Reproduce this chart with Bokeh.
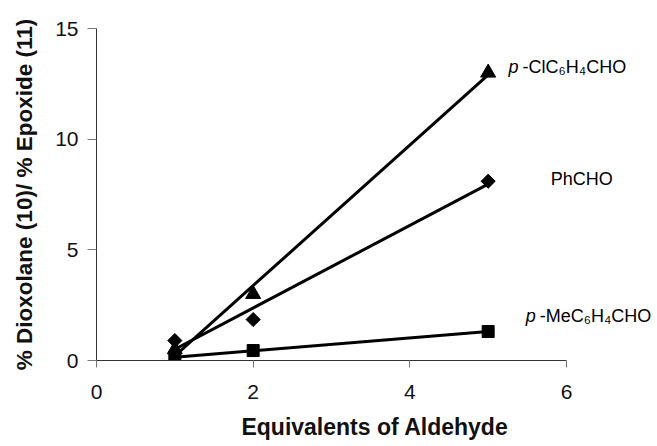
import numpy as np
from bokeh.plotting import figure
from bokeh.models import Label, Range1d, FixedTicker
from bokeh.embed import file_html
from bokeh.resources import INLINE

# ---- data ----
equivalents = [1, 2, 5]
cl_ratio = [0.5, 3.0, 13.0]     # p-ClC6H4CHO (triangles)
ph_ratio = [0.9, 1.85, 8.1]     # PhCHO (diamonds)
me_ratio = [0.14, 0.45, 1.31]   # p-MeC6H4CHO (squares)

x_ticks = [0, 2, 4, 6]
y_ticks = [0, 5, 10, 15]
x_axis_end = 6

# series label text and anchor (data units)
label_italic = ["p", "", "p"]
label_main = ["-ClC\u2086H\u2084CHO", "PhCHO", "-MeC\u2086H\u2084CHO"]
label_x = [5.26, 5.80, 5.48]
label_y = [13.25, 8.22, 2.03]

FONT = "Liberation Sans"

W, H = 655, 446
LEFT, TOP, BOTTOM, RIGHT = 96, 28, 86, 2
frame_w = W - LEFT - RIGHT
x_end = x_axis_end * frame_w / 470.0   # axis 0..6 spans 470 px, room for labels beyond

p = figure(width=W, height=H, x_range=Range1d(0, x_end), y_range=Range1d(0, 15),
           output_backend="svg", toolbar_location=None,
           min_border_left=LEFT, min_border_right=RIGHT, min_border_top=TOP, min_border_bottom=BOTTOM)
p.grid.visible = False
p.outline_line_color = None
p.background_fill_color = "white"
p.border_fill_color = "white"

for ax in (p.xaxis[0], p.yaxis[0]):
    ax.axis_line_color = "#333333"
    ax.axis_line_width = 1
    ax.major_tick_line_color = "#777777"
    ax.major_tick_in = 0
    ax.minor_tick_line_color = None
    ax.major_label_text_font = FONT
    ax.major_label_text_font_size = "21px"
    ax.major_label_text_color = "#111111"
    ax.axis_label_text_font = FONT
    ax.axis_label_text_font_style = "bold"
    ax.axis_label_text_color = "#111111"

p.xaxis.bounds = (0, x_axis_end)
p.xaxis.ticker = FixedTicker(ticks=x_ticks)
p.yaxis.ticker = FixedTicker(ticks=y_ticks)
p.xaxis.axis_label = "Equivalents of Aldehyde"
p.yaxis.axis_label = "% Dioxolane (10)/ % Epoxide (11)"
p.xaxis.axis_label_text_font_size = "23px"
p.yaxis.axis_label_text_font_size = "22.5px"
p.xaxis.major_tick_out = 7
p.yaxis.major_tick_out = 9
p.xaxis.major_label_standoff = 17
p.xaxis.axis_label_standoff = 12
p.yaxis.major_label_standoff = 9
p.yaxis.axis_label_standoff = 15

# trend lines (least squares, as in the original spreadsheet chart)
xs = np.array(equivalents, dtype=float)
for ys in (cl_ratio, ph_ratio, me_ratio):
    m, b = np.polyfit(xs, np.array(ys, dtype=float), 1)
    xe = np.array([xs.min(), xs.max()])
    p.line(xe, m * xe + b, line_color="black", line_width=3)

p.scatter(equivalents, cl_ratio, marker="triangle", size=15, color="black")
p.scatter(equivalents, ph_ratio, marker="square", angle=np.pi / 4, size=10, color="black")
p.scatter(equivalents, me_ratio, marker="square", size=12, color="black")

for it, mn, lx, ly in zip(label_italic, label_main, label_x, label_y):
    off = 0
    if it:
        p.add_layout(Label(x=lx, y=ly, text=it, text_font=FONT, text_font_style="italic",
                           text_font_size="18px", text_baseline="middle", text_color="black"))
        off = 14
    p.add_layout(Label(x=lx, y=ly, x_offset=off, text=mn, text_font=FONT,
                       text_font_size="18px", text_baseline="middle", text_color="black"))

open("out.html", "w").write(file_html(p, INLINE))
